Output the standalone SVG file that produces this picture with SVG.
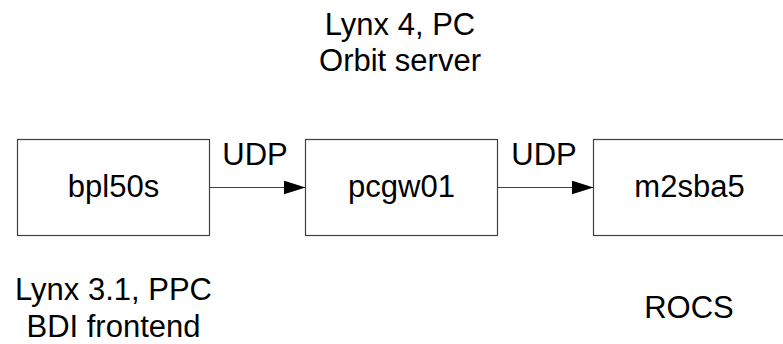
<svg xmlns="http://www.w3.org/2000/svg" width="783" height="344" viewBox="0 0 783 344">
<style>
.box{fill:#ffffff;stroke:#404040;stroke-width:1.2}
.conn{stroke:#404040;stroke-width:1.2;fill:none}
text{font-family:"Liberation Sans",Arial,sans-serif;font-size:31px;fill:#000000;text-anchor:middle}
</style>
<defs>
<marker id="arr" markerUnits="userSpaceOnUse" markerWidth="24" markerHeight="16" refX="22" refY="7" orient="auto">
<path d="M0,0 L22,7 L0,14 Z" fill="#000000"/>
</marker>
</defs>
<rect width="783" height="344" fill="#ffffff"/>
<g id="label-top">
<text x="400" y="35">Lynx 4, PC</text>
<text x="400" y="71">Orbit server</text>
</g>
<g id="node-bpl50s">
<rect class="box" x="17.5" y="139.5" width="192" height="96"/>
<text x="113.5" y="197">bpl50s</text>
</g>
<g id="node-pcgw01">
<rect class="box" x="305.5" y="139.5" width="192" height="96"/>
<text x="401.5" y="197">pcgw01</text>
</g>
<g id="node-m2sba5">
<rect class="box" x="593.5" y="139.5" width="194" height="96"/>
<text x="689.5" y="197">m2sba5</text>
</g>
<g id="connectors">
<line class="conn" x1="209.5" y1="187.5" x2="305.5" y2="187.5" marker-end="url(#arr)"/>
<line class="conn" x1="497.5" y1="187.5" x2="593.5" y2="187.5" marker-end="url(#arr)"/>
<text x="255" y="165">UDP</text>
<text x="544" y="165">UDP</text>
</g>
<g id="label-bpl50s">
<text x="113.5" y="300">Lynx 3.1, PPC</text>
<text x="113.5" y="337">BDI frontend</text>
</g>
<g id="label-rocs">
<text x="689" y="318">ROCS</text>
</g>
</svg>
